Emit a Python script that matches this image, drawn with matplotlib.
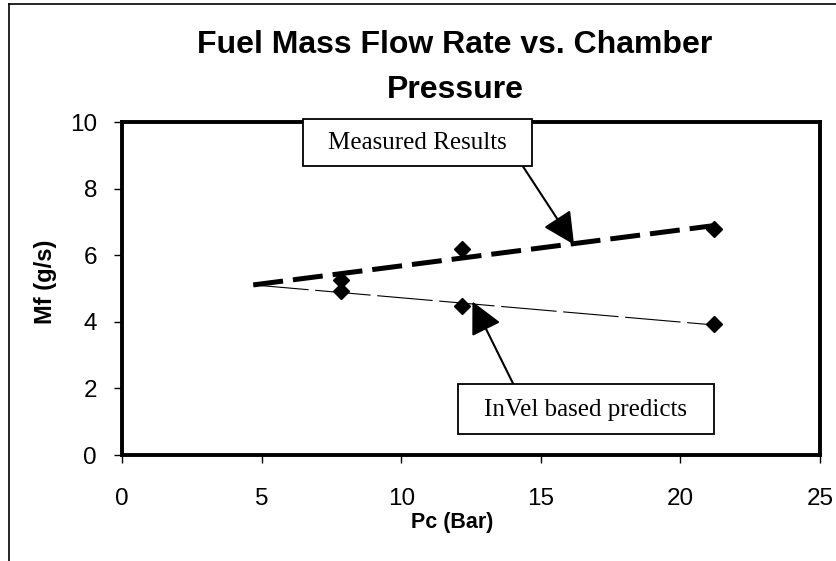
import numpy as np
import matplotlib
matplotlib.use("Agg")
import matplotlib.pyplot as plt
from matplotlib.patches import Rectangle
from matplotlib.lines import Line2D

# Data
pc_measured = [7.84, 12.16, 21.2]
mf_measured = [5.26, 6.19, 6.80]
pc_predicted = [7.84, 12.16, 21.2]
mf_predicted = [4.93, 4.49, 3.93]
trend_start = 4.7  # backward-forecast start of the linear trendlines

x_ticks = [0, 5, 10, 15, 20, 25]
y_ticks = [0, 2, 4, 6, 8, 10]

title = "Fuel Mass Flow Rate vs. Chamber\nPressure"
xlabel = "Pc (Bar)"
ylabel = "Mf (g/s)"
label_measured = "Measured Results"
label_predicted = "InVel based predicts"

plt.rcParams['font.family'] = ['Liberation Sans', 'DejaVu Sans']

fig = plt.figure(figsize=(8.37, 5.61), dpi=100)
ax = fig.add_axes([0.1458, 0.1889, 0.8339, 0.5936])

# points
ax.plot(pc_measured, mf_measured, linestyle='none', marker='D', color='black',
        markersize=8.5, zorder=4, clip_on=False)
ax.plot(pc_predicted, mf_predicted, linestyle='none', marker='D', color='black',
        markersize=8.5, zorder=4, clip_on=False)

# linear trendlines
def trend(xs, ys):
    m, b = np.polyfit(xs, ys, 1)
    xx = np.array([trend_start, max(xs)])
    return xx, m * xx + b

tx, ty = trend(pc_measured, mf_measured)
ax.plot(tx, ty, color='black', lw=3.6, linestyle=(0, (6, 2)), zorder=3,
        dash_capstyle='butt')
tx2, ty2 = trend(pc_predicted, mf_predicted)
ax.plot(tx2, ty2, color='black', lw=0.8, linestyle=(0, (50, 6)), zorder=3)

ax.set_xlim(0, 25)
ax.set_ylim(0, 10)
ax.set_xticks(x_ticks)
ax.set_yticks(y_ticks)
ax.tick_params(axis='both', direction='out', length=6, width=1, labelsize=17.5)
ax.tick_params(axis='x', pad=18)
ax.tick_params(axis='y', pad=12)
for s in ax.spines.values():
    s.set_linewidth(2.8)

ax.set_xlabel(xlabel, fontsize=15.5, fontweight='bold')
ax.set_ylabel(ylabel, fontsize=17, fontweight='bold')
ax.xaxis.set_label_coords(0.473, -0.171)
ax.yaxis.set_label_coords(-0.093, 0.52)

fig.text(0.5436, 0.946, title, ha='center', va='top', fontsize=23,
         fontweight='bold', linespacing=1.62)

# annotation boxes
serif = ['Liberation Serif', 'DejaVu Serif']
ax.add_patch(Rectangle((6.49, 8.68), 14.7 - 6.49, 10.09 - 8.68, facecolor='white',
                       edgecolor='black', lw=1.3, zorder=6, clip_on=False))
ax.text((6.49 + 14.7) / 2, 9.36, label_measured, ha='center', va='center',
        fontsize=18, family=serif, zorder=7)
ax.add_patch(Rectangle((12.03, 0.63), 21.19 - 12.03, 2.14 - 0.63, facecolor='white',
                       edgecolor='black', lw=1.3, zorder=6, clip_on=False))
ax.text((12.03 + 21.19) / 2, 1.36, label_predicted, ha='center', va='center',
        fontsize=18, family=serif, zorder=7)

arrow = dict(arrowstyle='-|>,head_length=0.9,head_width=0.45', color='black',
             lw=1.5, shrinkA=0, shrinkB=0, mutation_scale=22)
ax.annotate('', xy=(16.19, 6.32), xytext=(14.35, 8.68), arrowprops=arrow, zorder=5)
ax.annotate('', xy=(12.55, 4.61), xytext=(14.01, 2.14), arrowprops=arrow, zorder=5)

# outer frame (left and top)
fig.add_artist(Line2D([0.011, 0.011], [0, 0.993], color='black', lw=1.2,
                      transform=fig.transFigure))
fig.add_artist(Line2D([0.011, 1.0], [0.993, 0.993], color='black', lw=1.2,
                      transform=fig.transFigure))

fig.savefig('out.png', dpi=100)
